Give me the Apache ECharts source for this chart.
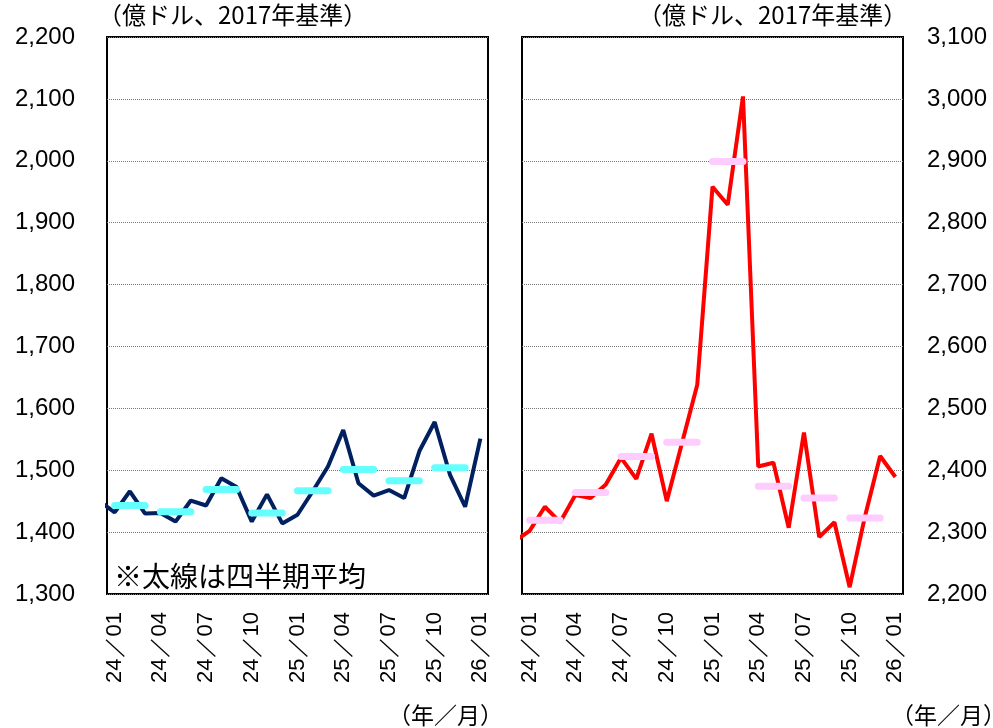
<!DOCTYPE html>
<html>
<head>
<meta charset="utf-8">
<script src="https://cdn.jsdelivr.net/npm/echarts@6/dist/echarts.min.js"></script>
<style>
  html, body { margin: 0; padding: 0; background: #fff; }
  #chart { width: 993px; height: 728px; }
</style>
</head>
<body>
<div id="chart"></div>
<script>
// 月ラベル（24/01〜26/01）
const months = [
  "24／01", "24／02", "24／03", "24／04", "24／05", "24／06",
  "24／07", "24／08", "24／09", "24／10", "24／11", "24／12",
  "25／01", "25／02", "25／03", "25／04", "25／05", "25／06",
  "25／07", "25／08", "25／09", "25／10", "25／11", "25／12",
  "26／01"
];

// 左：23/12 の値（グラフ左端で切れている線）
const leftPrev = 1450;
const leftValues = [
  1432, 1466, 1430, 1431, 1417, 1451, 1443, 1487, 1473, 1417, 1461, 1414,
  1428, 1466, 1506, 1565, 1479, 1459, 1468, 1455, 1531, 1578, 1493, 1441,
  1551
];
const leftQuarter = [1443, 1433, 1469, 1431, 1467, 1501, 1483, 1504];

// 右
const rightPrev = 2285;
const rightValues = [
  2302, 2341, 2316, 2360, 2355, 2377, 2420, 2386, 2459, 2350, 2444, 2538,
  2858, 2829, 3004, 2406, 2412, 2307, 2461, 2292, 2316, 2211, 2325, 2423,
  2389
];
const rightQuarter = [2319, 2364, 2422, 2445, 2899, 2374, 2355, 2323];

const leftTicks = { min: 1300, max: 2200, interval: 100 };
const rightTicks = { min: 2200, max: 3100, interval: 100 };

const numFont = '"Liberation Sans", Arial, sans-serif';
const jpFont = '"Noto Sans CJK JP", sans-serif';

// 月次の線：前月分（index -1）も入れてクリップさせる
function monthly(prev, values) {
  return [[-1, prev]].concat(values.map((v, i) => [i, v]));
}
// 四半期平均：3か月分の横棒、間は '-' で切る
function quarterly(avgs) {
  const out = [];
  avgs.forEach((v, q) => {
    out.push([3 * q, v], [3 * q + 2, v], [3 * q + 2.5, "-"]);
  });
  return out;
}

function catAxis(gridIndex) {
  return {
    type: "category",
    gridIndex: gridIndex,
    data: months,
    boundaryGap: true,
    axisLine: { show: false },
    axisTick: { show: false },
    axisLabel: {
      interval: 2,
      rotate: 90,
      margin: 18,
      color: "#000",
      fontSize: 22,
      fontFamily: numFont
    }
  };
}
function valueXAxis(gridIndex) {
  return { type: "value", gridIndex: gridIndex, min: -0.5, max: 24.5, show: false };
}
function yAxis(gridIndex, ticks, position, margin) {
  return {
    type: "value",
    gridIndex: gridIndex,
    position: position,
    min: ticks.min,
    max: ticks.max,
    interval: ticks.interval,
    axisLine: { show: false },
    axisTick: { show: false },
    axisLabel: {
      margin: margin,
      color: "#000",
      fontSize: 24,
      fontFamily: numFont,
      formatter: v => v.toLocaleString("en-US")
    },
    splitLine: { lineStyle: { color: "#777", type: "dotted", width: 1 } }
  };
}

const chart = echarts.init(document.getElementById("chart"));
const option = {
  animation: false,
  backgroundColor: "#fff",
  grid: [
    { left: 107, top: 37, width: 381, height: 557, show: true, borderColor: "#000", borderWidth: 2 },
    { left: 522, top: 37, width: 381, height: 557, show: true, borderColor: "#000", borderWidth: 2 }
  ],
  xAxis: [catAxis(0), valueXAxis(0), catAxis(1), valueXAxis(1)],
  yAxis: [yAxis(0, leftTicks, "left", 32), yAxis(1, rightTicks, "right", 24)],
  series: [
    {
      type: "line", xAxisIndex: 1, yAxisIndex: 0,
      data: monthly(leftPrev, leftValues),
      symbol: "none", clip: true, z: 2,
      lineStyle: { color: "#002060", width: 4 }
    },
    {
      type: "line", xAxisIndex: 1, yAxisIndex: 0,
      data: quarterly(leftQuarter),
      symbol: "none", connectNulls: false, z: 3,
      lineStyle: { color: "#66FFFF", width: 7, cap: "round" }
    },
    {
      type: "line", xAxisIndex: 3, yAxisIndex: 1,
      data: monthly(rightPrev, rightValues),
      symbol: "none", clip: true, z: 2,
      lineStyle: { color: "#FF0000", width: 4 }
    },
    {
      type: "line", xAxisIndex: 3, yAxisIndex: 1,
      data: quarterly(rightQuarter),
      symbol: "none", connectNulls: false, z: 3,
      lineStyle: { color: "#FFCCFF", width: 7, cap: "round" }
    }
  ],
  graphic: [
    { type: "text", left: 98, top: 3, style: { text: "（億ドル、2017年基準）", font: "24px " + jpFont, fill: "#000" } },
    { type: "text", left: 638, top: 3, style: { text: "（億ドル、2017年基準）", font: "24px " + jpFont, fill: "#000" } },
    { type: "text", left: 114, top: 562, style: { text: "※太線は四半期平均", font: "28px " + jpFont, fill: "#000" } },
    { type: "text", left: 388, top: 704, style: { text: "（年／月）", font: "23px " + jpFont, fill: "#000" } },
    { type: "text", left: 891, top: 704, style: { text: "（年／月）", font: "23px " + jpFont, fill: "#000" } }
  ]
};
chart.setOption(option);
</script>
</body>
</html>
